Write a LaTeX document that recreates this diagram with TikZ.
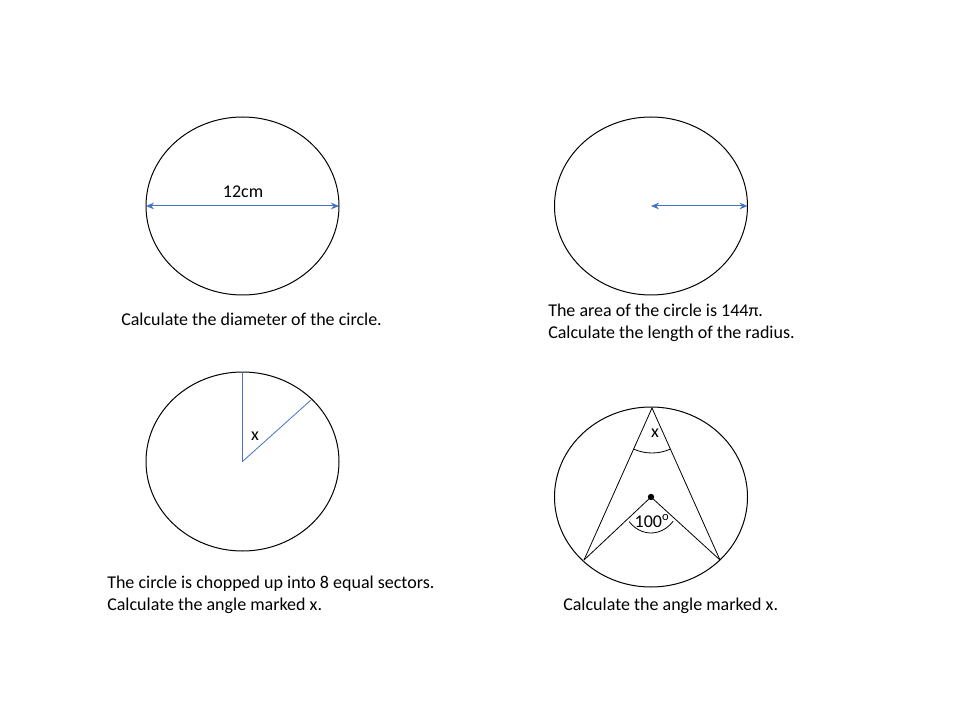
\documentclass[tikz,border=0pt]{standalone}
\usepackage{fontspec}
\setmainfont{Carlito}
\usetikzlibrary{positioning, arrows.meta, calc}

\begin{document}
\begin{tikzpicture}[x=0.75pt, y=-0.75pt, every node/.style={font=\fontsize{13.5}{16.5}\selectfont}]

	\tikzstyle{rim} = [draw, black, line width=0.75pt]
	\tikzstyle{blueline} = [draw, color={rgb,255:red,68;green,114;blue,196}, line width=0.6pt]
	\tikzstyle{bluearrow} = [blueline, line width=0.75pt, {Stealth[length=6pt,width=5pt]}-{Stealth[length=6pt,width=5pt]}]
	\tikzstyle{plain} = [draw, black, line width=0.6pt]
	\tikzstyle{question} = [anchor=west, align=left, inner sep=0pt]

	\useasboundingbox (0,0) rectangle (960,720);

	% circle 1: diameter
	\coordinate (c1) at (242.5,206);
	\path [rim] (c1) ellipse (96.5 and 89);
	\coordinate (d1l) at (146,206);
	\coordinate (d1r) at (339,206);
	\path [bluearrow] (d1l) -- (d1r);
	\node (len) at (243,192) {12cm};
	\node [question] (q1) at (121,319) {Calculate the diameter of the circle.};

	% circle 2: radius
	\coordinate (c2) at (651,206);
	\path [rim] (c2) ellipse (96.5 and 89);
	\coordinate (r2) at (747.5,206);
	\path [bluearrow] (c2) -- (r2);
	\node [question] (q2) at (548,323) {The area of the circle is 144π.\\Calculate the length of the radius.};

	% circle 3: sectors
	\coordinate (c3) at (242.5,461.5);
	\path [rim] (c3) ellipse (96.5 and 89.5);
	\coordinate (s3a) at (242.5,372);
	\coordinate (s3b) at (311,400);
	\path [blueline] (c3) -- (s3a);
	\path [blueline] (c3) -- (s3b);
	\node (x3) at (255,436) {x};
	\node [question] (q3) at (107,595) {The circle is chopped up into 8 equal sectors.\\Calculate the angle marked x.};

	% circle 4: angle at centre
	\coordinate (c4) at (651,497);
	\path [rim] (c4) ellipse (96.5 and 90);
	\coordinate (top) at (652,408);
	\coordinate (pl) at (584,560);
	\coordinate (pr) at (720,560);
	\path [plain] (pl) -- (top) -- (pr);
	\path [plain] (pl) -- (c4) -- (pr);
	\fill (c4) circle (3.2);
	\path [plain] (top) ++(114.1:45) arc [start angle=114.1, end angle=65.9, radius=45];
	\path [plain] (c4) ++(136.8:30 and 36) arc [start angle=136.8, end angle=42.4, x radius=30, y radius=36];
	\node (x4) at (655,433) {x};
	\node (ang) at (652,521) {100\textsuperscript{o}};
	\node [question] (q4) at (563,606) {Calculate the angle marked x.};

\end{tikzpicture}
\end{document}
